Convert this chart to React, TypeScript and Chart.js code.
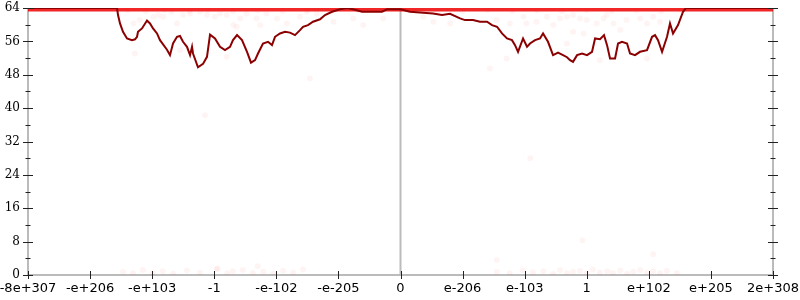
import React, { useEffect, useRef } from "react";
import { Chart, registerables } from "chart.js";

Chart.register(...registerables);

// x axis: ordinal float positions, 12 equal intervals
const xTickLabels = [
  "-8e+307", "-e+206", "-e+103", "-1", "-e-102", "-e-205", "0",
  "e-206", "e-103", "1", "e+102", "e+205", "2e+308",
];
const yMin = 0;
const yMax = 64;
const yStep = 8;

// main error line (bits of error)
const lineX = [
  0, 1.434, 1.45, 1.482, 1.53, 1.595, 1.675, 1.724, 1.756, 1.772, 1.836, 1.917, 1.965, 2.014,
  2.078, 2.126, 2.239, 2.287, 2.336, 2.4, 2.448, 2.497, 2.561, 2.61, 2.642, 2.658, 2.738,
  2.819, 2.883, 2.932, 3.012, 3.093, 3.173, 3.254, 3.302, 3.367, 3.447, 3.528, 3.592, 3.657,
  3.705, 3.785, 3.866, 3.93, 3.979, 4.059, 4.14, 4.22, 4.301, 4.381, 4.43, 4.51, 4.591,
  4.704, 4.784, 4.897, 5.026, 5.139, 5.235, 5.38, 5.702, 5.783, 6.0, 6.153, 6.524, 6.669,
  6.798, 6.959, 7.039, 7.168, 7.281, 7.394, 7.474, 7.555, 7.635, 7.716, 7.796, 7.845, 7.893,
  7.974, 8.038, 8.086, 8.167, 8.247, 8.296, 8.376, 8.457, 8.537, 8.618, 8.682, 8.731, 8.779,
  8.844, 8.924, 9.005, 9.085, 9.134, 9.214, 9.278, 9.327, 9.375, 9.456, 9.504, 9.568, 9.649,
  9.697, 9.778, 9.858, 9.971, 10.052, 10.1, 10.148, 10.213, 10.293, 10.341, 10.39, 10.47,
  10.551, 10.599, 12,
];
const lineY = [
  64, 64, 62.3, 60.3, 58.3, 56.7, 56.3, 56.5, 57.1, 58.3, 59.1, 61, 60.3, 59.1,
  57.9, 56.3, 54, 52.7, 55.5, 57.1, 57.3, 55.9, 54.7, 52.7, 54.7, 53.1, 49.8,
  50.6, 52.3, 57.6, 56.7, 54.7, 53.9, 54.7, 56.3, 57.5, 56.3, 53.5, 50.9, 51.5,
  53.1, 55.5, 55.9, 55.1, 57.1, 57.9, 58.3, 58.1, 57.5, 58.7, 59.5, 59.9, 60.7,
  61.3, 62.3, 63.1, 63.7, 64, 63.7, 63.1, 63.1, 63.7, 63.7, 63.1, 62.7, 62.3,
  62.6, 61.5, 61.1, 61.1, 60.7, 60.7, 59.9, 59.5, 57.9, 56.7, 56.3, 55.1, 53.5,
  56.7, 54.7, 55.5, 56.3, 56.7, 57.9, 55.9, 52.7, 53.3, 52.7, 52.2, 51.5, 51.1,
  52.7, 53.1, 52.7, 53.5, 56.7, 56.5, 57.5, 55.1, 51.9, 51.9, 55.5, 55.9, 55.5,
  53.1, 52.7, 53.5, 53.9, 57.1, 57.5, 56.3, 53.5, 57.1, 60.3, 57.9, 59.9,
  63.1, 64, 64,
];

// band of sampled points sitting at the maximum
const bandX = [0, 12];
const bandY = [64, 64];

// faint individual samples
const sampleX = [
  1.7, 1.8, 2.02, 2.1, 2.18, 2.31, 2.4, 2.5, 2.61, 2.77, 2.88, 3.01, 3.09, 3.2, 3.31, 3.36,
  3.42, 3.52, 3.68, 3.74, 3.84, 4.01, 4.17, 4.38, 4.49, 4.65, 4.92, 5.24, 5.4, 5.72,
  1.72, 2.45, 3.2, 4.54, 2.85, 6.37, 6.53, 6.8, 7.55, 7.76, 7.98, 8.03, 8.19, 8.36, 8.46,
  8.57, 8.68, 8.78, 8.89, 9.0, 9.16, 9.27, 9.32, 9.43, 9.54, 9.64, 9.86, 9.97, 10.07, 10.18,
  8.68, 8.78, 8.95, 9.21, 7.71, 7.44, 9.97, 8.09,
  1.6, 1.9, 2.2, 2.6, 2.9, 3.3, 3.7, 4.1, 4.5, 4.9, 5.3,
  6.6, 7.0, 7.4, 7.8, 8.2, 8.6, 9.0, 9.4, 9.8, 10.2, 10.5,
  1.53, 1.69, 1.85, 2.01, 2.17, 2.34, 2.56, 2.77, 3.04, 3.21, 3.3, 3.46, 3.62, 3.79, 3.95,
  4.11, 4.27, 4.43, 3.7, 3.05,
  7.55, 7.76, 7.97, 8.13, 8.3, 8.46, 8.57, 8.68, 8.78, 8.89, 9.0, 9.1, 9.21, 9.33, 9.42,
  9.54, 9.65, 9.75, 9.86, 9.97, 10.07, 10.18, 10.29, 10.45, 7.55, 10.07, 8.93,
];
const sampleY = [
  60.3, 61.1, 61.9, 62.3, 61.9, 63.1, 60.3, 62.3, 62.7, 63.1, 62.3, 61.9, 62.7, 62.3, 59.9, 59.5,
  61.5, 62.7, 61.5, 59.9, 62.7, 61.5, 60.3, 61.9, 63.1, 62.7, 60.7, 61.5, 59.9, 61.5,
  53.1, 53.9, 52.3, 47.1, 38.3, 61.9, 60.7, 60.3, 61.1, 60.3, 61.9, 60.3, 60.7, 61.9, 59.9,
  61.5, 61.9, 62.3, 61.5, 61.1, 60.3, 61.5, 62.3, 60.3, 58.7, 61.1, 61.5, 60.3, 61.9, 60.7,
  55.5, 58.3, 57.9, 51.5, 51.9, 49.5, 51.9, 28.0,
  63.4, 63.2, 63.5, 63.3, 63.5, 63.2, 63.4, 63.3, 63.5, 63.2, 63.4,
  63.4, 63.2, 63.5, 63.3, 63.4, 63.2, 63.5, 63.3, 63.4, 63.2, 63.5,
  0.8, 0.4, 1.2, 0.5, 0.9, 0.3, 1.1, 0.6, 1.4, 0.4, 0.9, 1.2, 0.5, 0.8, 0.3,
  1.0, 0.6, 1.3, 2.1, 1.6,
  0.7, 0.4, 1.1, 0.6, 0.9, 0.3, 1.2, 0.5, 0.8, 1.0, 0.4, 1.3, 0.6, 0.9, 0.5,
  1.1, 0.3, 0.8, 1.2, 0.6, 0.9, 0.4, 1.0, 0.5, 3.6, 5.0, 8.3,
];

const toPoints = (xs: number[], ys: number[]) => xs.map((x, i) => ({ x, y: ys[i] }));

const axesPlugin = {
  id: "customAxes",
  beforeDatasetsDraw(chart: any) {
    const { ctx, chartArea, scales } = chart;
    const { left, right, top, bottom } = chartArea;
    const xs = scales.x;
    ctx.save();
    ctx.strokeStyle = "#bbbbbb";
    ctx.lineWidth = 2;
    ctx.beginPath();
    ctx.moveTo(left, top);
    ctx.lineTo(left, bottom);
    ctx.moveTo(right, top);
    ctx.lineTo(right, bottom);
    ctx.moveTo(left, bottom);
    ctx.lineTo(right, bottom);
    const mid = xs.getPixelForValue(6);
    ctx.moveTo(mid, top);
    ctx.lineTo(mid, bottom);
    ctx.stroke();
    ctx.restore();
  },
  afterDatasetsDraw(chart: any) {
    const { ctx, chartArea, scales } = chart;
    const { left, right, bottom } = chartArea;
    const xs = scales.x;
    const ys = scales.y;
    ctx.save();
    ctx.strokeStyle = "#222222";
    ctx.lineWidth = 1;
    ctx.beginPath();
    for (let v = yMin; v <= yMax; v += yStep / 2) {
      const py = Math.round(ys.getPixelForValue(v)) + 0.5;
      const half = v % yStep === 0 ? 5 : 2.5;
      ctx.moveTo(left - half, py);
      ctx.lineTo(left + half, py);
      ctx.moveTo(right - half, py);
      ctx.lineTo(right + half, py);
    }
    for (let i = 0; i < xTickLabels.length; i++) {
      const px = Math.round(xs.getPixelForValue(i)) + 0.5;
      ctx.moveTo(px, bottom - 4);
      ctx.lineTo(px, bottom + 4);
    }
    ctx.stroke();
    ctx.restore();
  },
};

export default function App() {
  const ref = useRef<HTMLCanvasElement>(null);
  useEffect(() => {
    if (!ref.current) return;
    const chart = new Chart(ref.current, {
      type: "scatter",
      data: {
        datasets: [
          {
            label: "samples",
            data: toPoints(sampleX, sampleY),
            backgroundColor: "rgba(255,0,0,0.045)",
            borderWidth: 0,
            pointRadius: 3,
            showLine: false,
            order: 3,
          },
          {
            label: "band",
            data: toPoints(bandX, bandY),
            borderColor: "rgba(238,0,0,0.85)",
            borderWidth: 7,
            pointRadius: 0,
            showLine: true,
            clip: 0,
            order: 2,
          },
          {
            label: "error",
            data: toPoints(lineX, lineY),
            borderColor: "#8b0000",
            borderWidth: 2,
            pointRadius: 0,
            showLine: true,
            tension: 0,
            order: 1,
          },
        ] as any,
      },
      options: {
        animation: false,
        responsive: false,
        layout: { padding: { top: 8, right: 27, left: 0, bottom: 0 } },
        plugins: {
          legend: { display: false },
          tooltip: { enabled: false },
        },
        scales: {
          x: {
            type: "linear",
            min: 0,
            max: 12,
            grid: { display: false, drawTicks: false },
            border: { display: false },
            ticks: {
              stepSize: 1,
              autoSkip: false,
              maxRotation: 0,
              padding: 6,
              color: "#000",
              font: { family: "DejaVu Sans", size: 13 },
              callback: (v: any) => xTickLabels[Math.round(Number(v))] ?? "",
            },
            afterFit: (s: any) => {
              s.height = 25;
              s.paddingLeft = 0;
              s.paddingRight = 0;
            },
          },
          y: {
            type: "linear",
            min: yMin,
            max: yMax,
            grid: { display: false, drawTicks: false },
            border: { display: false },
            ticks: {
              stepSize: yStep,
              padding: 8,
              color: "#000",
              font: { family: "DejaVu Serif", size: 12 },
            },
            afterFit: (s: any) => {
              s.width = 28;
              s.paddingTop = 0;
              s.paddingBottom = 0;
            },
          },
        },
      },
      plugins: [axesPlugin],
    });
    return () => chart.destroy();
  }, []);
  return (
    <div style={{ position: "absolute", left: 0, top: 0, width: 800, height: 300 }}>
      <canvas ref={ref} width={800} height={300} style={{ display: "block" }} />
    </div>
  );
}
